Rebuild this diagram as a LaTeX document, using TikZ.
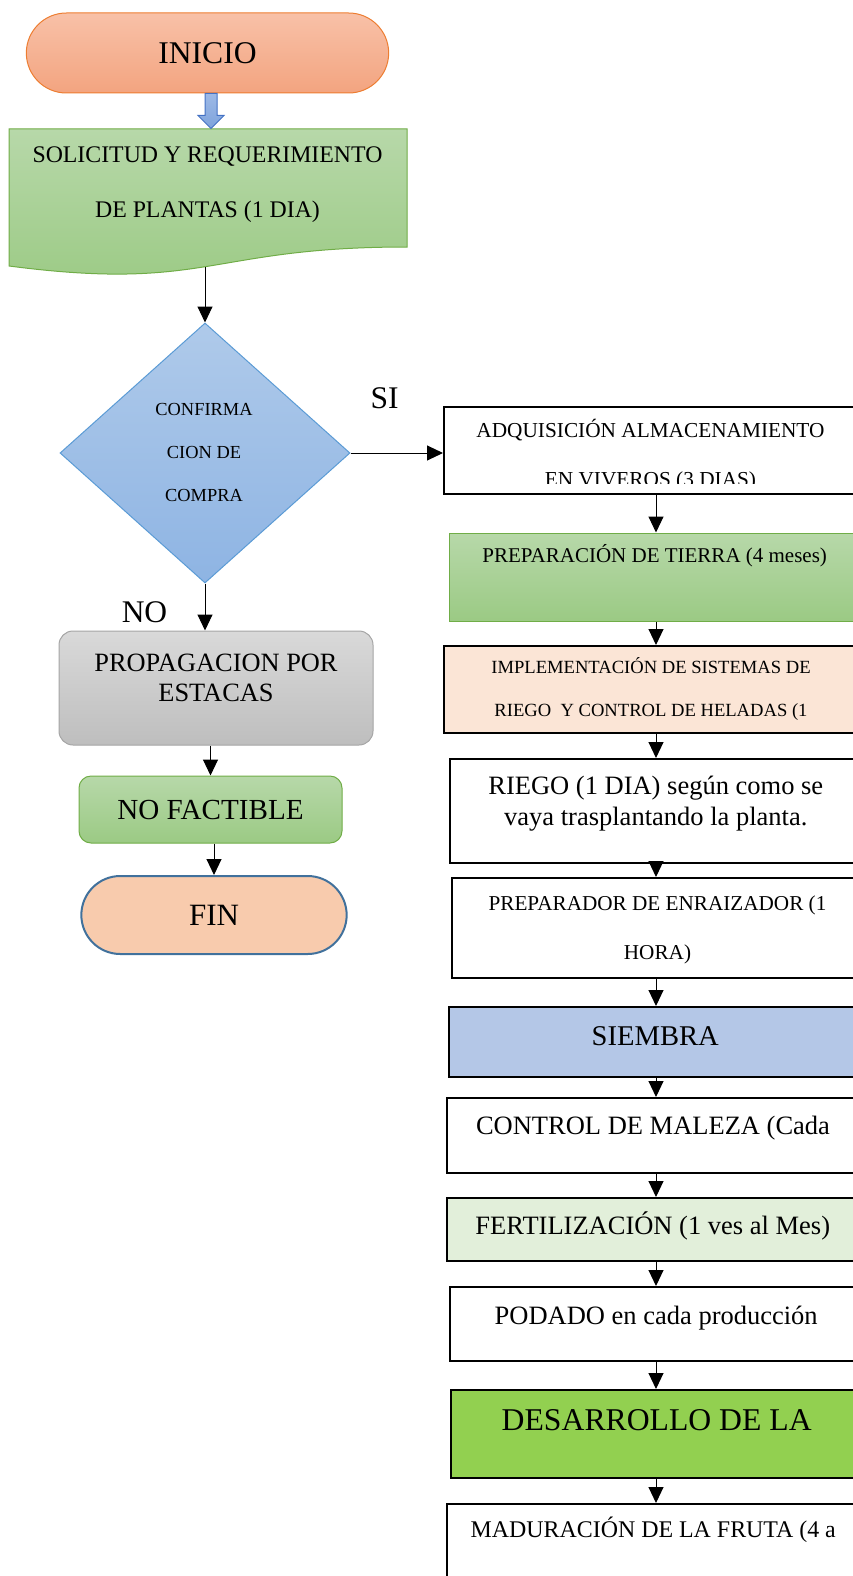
\documentclass[tikz,border=0pt]{standalone}
\usepackage{fontspec}
\setmainfont{Liberation Serif}
\usetikzlibrary{arrows.meta,positioning,calc,shapes.geometric,shapes.misc}
\definecolor{iniTop}{HTML}{F8C1A8}
\definecolor{iniBot}{HTML}{F3A480}
\definecolor{iniLine}{HTML}{ED7D31}
\definecolor{grnTop}{HTML}{B7D8A9}
\definecolor{grnBot}{HTML}{9BCA84}
\definecolor{grnLine}{HTML}{70AD47}
\definecolor{bluTop}{HTML}{AFCAEA}
\definecolor{bluBot}{HTML}{8EB4E3}
\definecolor{bluLine}{HTML}{5B9BD5}
\definecolor{gryTop}{HTML}{D9D9D9}
\definecolor{gryBot}{HTML}{BEBEBE}
\definecolor{gryLine}{HTML}{A5A5A5}
\definecolor{finFill}{HTML}{F8CBAD}
\definecolor{finLine}{HTML}{41719C}
\definecolor{barTop}{HTML}{9DB9E6}
\definecolor{barBot}{HTML}{7EA3DC}
\definecolor{barLine}{HTML}{4472C4}
\definecolor{implFill}{HTML}{FBE5D6}
\definecolor{siemFill}{HTML}{B4C7E7}
\definecolor{fertFill}{HTML}{E2EFDA}
\definecolor{desFill}{HTML}{92D050}
\newcommand{\fsz}[2]{\fontsize{#1}{#2}\selectfont}
\tikzset{
  arr/.style={-{Triangle[length=16pt,width=15pt]},line width=1pt},
  term/.style={rounded rectangle,draw,line width=1pt},
  sbox/.style={rectangle,rounded corners=14pt,draw,line width=1pt},
  rbox/.style={rectangle,draw=black,line width=2pt},
  txt/.style={anchor=base,align=center,inner sep=0pt},
  barrow/.style={top color=barTop,bottom color=barBot,draw=barLine,line width=1pt}
}
\begin{document}
\begin{tikzpicture}[x=1pt,y=-1pt]
\useasboundingbox (0,0) rectangle (853,1576);
\clip (0,0) rectangle (853,1576);
% left column
\node[term,top color=iniTop,bottom color=iniBot,draw=iniLine,minimum width=369pt,minimum height=80pt,font=\fsz{31.6pt}{36pt}] (ini) at (207.5,53) {INICIO};
\path[top color=grnTop,bottom color=grnBot,draw=grnLine,line width=1pt] (9,129) -- (407,129) -- (407,247) .. controls (208,247) and (208,292) .. (9,266) -- cycle;
\node[txt,font=\fsz{23.8pt}{54.8pt}] (sol) at (207.5,217.5) {SOLICITUD Y REQUERIMIENTO\\DE PLANTAS (1 DIA)};
\coordinate (solb) at (205,267);
\node[diamond,top color=bluTop,bottom color=bluBot,draw=bluLine,line width=1pt,minimum width=290pt,minimum height=260pt,inner sep=0pt] (dia) at (205,453) {};
\node[txt,font=\fsz{18.4pt}{43pt}] (diat) at (204,501) {CONFIRMA\\CION DE\\COMPRA};
\node[txt,font=\fsz{31.5pt}{36pt}] (si) at (384.5,408) {SI};
\node[txt,font=\fsz{31.5pt}{36pt}] (no) at (144.5,622) {NO};
\node[sbox,top color=gryTop,bottom color=gryBot,draw=gryLine,minimum width=314pt,minimum height=114pt] (prop) at (216,688) {};
\node[txt,font=\fsz{26.4pt}{30.7pt}] (propt) at (216,701.7) {PROPAGACION POR\\ESTACAS};
\node[sbox,rounded corners=12pt,top color=grnTop,bottom color=grnBot,draw=grnLine,minimum width=263pt,minimum height=67pt,font=\fsz{29.1pt}{33pt}] (nof) at (210.5,809.5) {NO FACTIBLE};
\node[term,fill=finFill,draw=finLine,line width=2pt,minimum width=272pt,minimum height=78pt,font=\fsz{31pt}{36pt}] (fin) at (214,915) {FIN};

% block arrow and connectors
\coordinate (ba) at ([xshift=3.5pt]ini.south);
\draw[barrow] (ba) ++(-6,0) -- ++(0,22) -- ++(-7,0) -- ++(13,13) -- ++(13,-13) -- ++(-7,0) -- ++(0,-22) -- cycle;
\draw[arr] (solb) -- (dia.north);
\draw[arr] (dia.south) -- (dia.south |- prop.north);
\draw[arr] (nof.north |- prop.south) -- (nof.north);
\draw[arr] (fin.north |- nof.south) -- (fin.north);

% right column
\node[rbox,minimum width=424pt,minimum height=87pt] (adq) at (656,450.5) {};
\begin{scope}
\clip (440,400) rectangle (870,483.3);
\node[txt,font=\fsz{21.3pt}{49.5pt}] (adqt) at (650.5,486.8) {ADQUISICIÓN ALMACENAMIENTO\\EN VIVEROS (3 DIAS)};
\end{scope}
\node[rectangle,top color=grnTop,bottom color=grnBot,draw=grnLine,line width=1pt,minimum width=414pt,minimum height=88pt] (tierra) at (656,577) {};
\node[txt,font=\fsz{21pt}{24pt}] (tierrat) at (654.7,562.7) {PREPARACIÓN DE TIERRA (4 meses)};
\node[rbox,fill=implFill,minimum width=424pt,minimum height=87pt] (impl) at (656,689.5) {};
\node[txt,font=\fsz{18.6pt}{43.4pt}] (implt) at (651,716.7) {IMPLEMENTACIÓN DE SISTEMAS DE\\RIEGO\ \ Y CONTROL DE HELADAS (1};
\node[rbox,minimum width=412pt,minimum height=104pt] (riego) at (656,811) {};
\node[txt,font=\fsz{26.5pt}{30.7pt}] (riegot) at (655.8,825) {RIEGO (1 DIA) según como se\\vaya trasplantando la planta.};
\node[rbox,minimum width=408pt,minimum height=100pt] (enra) at (656,928) {};
\node[txt,font=\fsz{21.2pt}{49.3pt}] (enrat) at (657.5,959.3) {PREPARADOR DE ENRAIZADOR (1\\HORA)};
\node[rbox,fill=siemFill,minimum width=414pt,minimum height=70pt] (siembra) at (656,1042) {};
\node[txt,font=\fsz{28.6pt}{33pt}] (siembrat) at (655.3,1045) {SIEMBRA};
\node[rbox,minimum width=418pt,minimum height=75pt] (maleza) at (656,1135.5) {};
\node[txt,font=\fsz{26.5pt}{30.7pt}] (malezat) at (653,1134) {CONTROL DE MALEZA (Cada};
\node[rbox,fill=fertFill,minimum width=418pt,minimum height=63pt] (fert) at (656,1229.5) {};
\node[txt,font=\fsz{26.5pt}{30.7pt}] (fertt) at (652.8,1234.3) {FERTILIZACIÓN (1 ves al Mes)};
\node[rbox,minimum width=412pt,minimum height=74pt] (podado) at (656,1324) {};
\node[txt,font=\fsz{26.5pt}{30.7pt}] (podadot) at (656.2,1324.3) {PODADO en cada producción};
\node[rbox,fill=desFill,minimum width=410pt,minimum height=88pt] (des) at (656,1434) {};
\node[txt,font=\fsz{31.7pt}{36pt}] (dest) at (656.7,1430.7) {DESARROLLO DE LA};
\node[rbox,minimum width=418pt,minimum height=116pt] (mad) at (656,1562) {};
\node[txt,font=\fsz{23.9pt}{27.5pt}] (madt) at (653.3,1537.3) {MADURACIÓN DE LA FRUTA (4 a};

% connectors
\draw[arr] (dia.east) -- (dia.east -| adq.west);
\draw[arr] (adq.south) -- (tierra.north);
\draw[arr] (tierra.south) -- (impl.north);
\draw[arr] (impl.south) -- (riego.north);
\draw[arr] (riego.south) -- (enra.north);
\draw[arr] (enra.south) -- (siembra.north);
\draw[arr] (siembra.south) -- (maleza.north);
\draw[arr] (maleza.south) -- (fert.north);
\draw[arr] (fert.south) -- (podado.north);
\draw[arr] (podado.south) -- (des.north);
\draw[arr] (des.south) -- (mad.north);
\end{tikzpicture}
\end{document}
